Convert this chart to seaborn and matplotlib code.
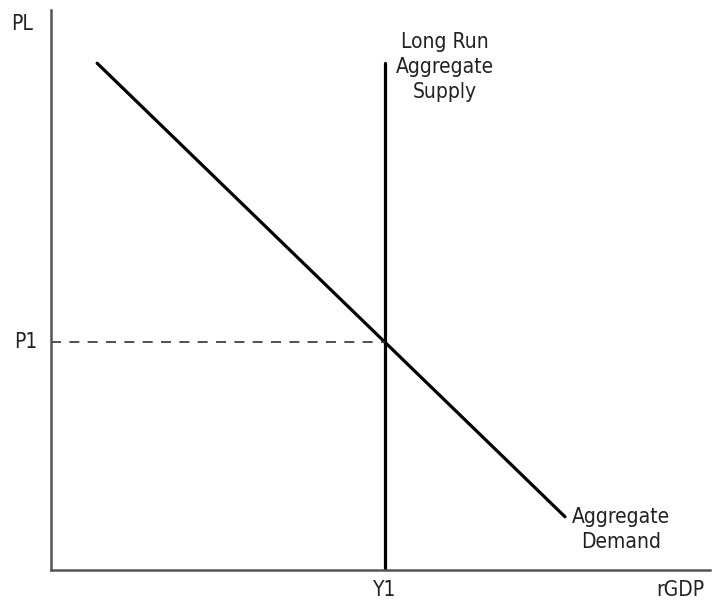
import matplotlib
matplotlib.use("Agg")
import matplotlib.pyplot as plt
import seaborn as sns
import pandas as pd

# Datos (coordenadas abstractas 0-10)
ad_x = [0.70, 7.80]          # Demanda agregada
ad_y = [9.05, 0.95]
lras_x = [5.07, 5.07]        # Oferta agregada de largo plazo
lras_y = [0.0, 9.05]
p1_x = [0.0, 5.07]           # Nivel de precios P1
p1_y = [4.08, 4.08]

sns.set_theme(style="white")
plt.rcParams['font.family'] = ['DejaVu Sans']
plt.rcParams['font.stretch'] = 'condensed'

fig = plt.figure(figsize=(7.16, 6.05), dpi=100)
ax = fig.add_axes([51 / 716, 35 / 605, 659 / 716, 560 / 605])

ad = pd.DataFrame({'x': ad_x, 'y': ad_y})
lras = pd.DataFrame({'x': lras_x, 'y': lras_y})
p1 = pd.DataFrame({'x': p1_x, 'y': p1_y})

sns.lineplot(data=ad, x='x', y='y', ax=ax, color='black', lw=2.3, estimator=None, sort=False)
sns.lineplot(data=lras, x='x', y='y', ax=ax, color='black', lw=2.3, estimator=None, sort=False)
ax.plot(p1['x'], p1['y'], color='#333333', lw=1.2, dashes=(6, 5))

ax.set_xlim(0, 10)
ax.set_ylim(0, 10)
ax.set_xticks([])
ax.set_yticks([])
ax.set_xlabel('')
ax.set_ylabel('')
for s in ['top', 'right']:
    ax.spines[s].set_visible(False)
for s in ['left', 'bottom']:
    ax.spines[s].set_color('#555555')
    ax.spines[s].set_linewidth(1.8)

fs = 15
txt = dict(fontsize=fs, color='#222222', fontstretch='condensed')
ax.text(-0.44, 9.75, 'PL', ha='center', va='center', **txt)
ax.text(-0.2, p1_y[0], 'P1', ha='right', va='center', **txt)
ax.text(lras_x[0], -0.35, 'Y1', ha='center', va='center', **txt)
ax.text(9.55, -0.35, 'rGDP', ha='center', va='center', **txt)
ax.text(5.98, 8.98, 'Long Run\nAggregate\nSupply', ha='center', va='center', linespacing=1.3, **txt)
ax.text(8.65, 0.72, 'Aggregate\nDemand', ha='center', va='center', linespacing=1.3, **txt)

fig.savefig('out.png', dpi=100)
